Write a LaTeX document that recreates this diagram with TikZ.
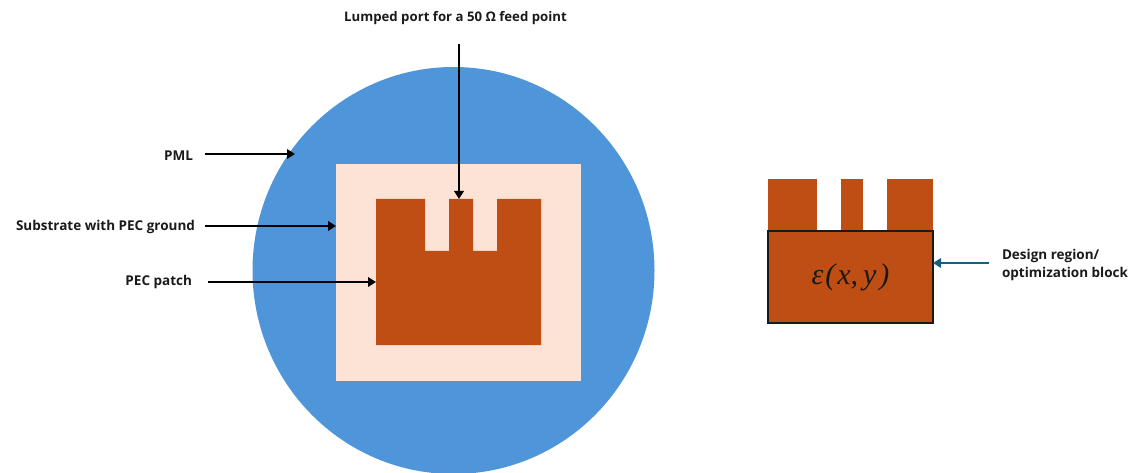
\documentclass[tikz,border=0pt]{standalone}
\usepackage{fontspec}
\setmainfont{Open Sans}
\newfontfamily\mathlike{Liberation Serif}
\usetikzlibrary{arrows.meta}
\definecolor{pmlblue}{HTML}{4F95DA}
\definecolor{subpeach}{HTML}{FCE3D6}
\definecolor{patchorange}{HTML}{BF4E14}
\definecolor{tealarrow}{HTML}{156082}
\definecolor{labelink}{HTML}{1A1A1A}
\tikzset{
  x=1pt,y=-1pt,
  shapebox/.style={rectangle,inner sep=0pt,outer sep=0pt,draw=none},
  lab/.style={inner sep=0pt,outer sep=0pt,text=labelink,font=\fontsize{13.5}{18}\selectfont\bfseries},
  pointer/.style={line width=2.3pt,-{Triangle[length=8pt,width=9.5pt]}},
}
\begin{document}
\begin{tikzpicture}
\useasboundingbox (0,0) rectangle (1133,473);
\begin{scope}
\clip (0,0) rectangle (1133,473);
\fill[pmlblue] (453.5,270.5) ellipse [x radius=201,y radius=203.5];
\end{scope}
\node[shapebox,fill=subpeach,minimum width=245pt,minimum height=217pt] (substrate) at (458.5,272.5) {};
\fill[patchorange] (376,199) -- (425,199) -- (425,251) -- (449,251) -- (449,199) -- (473,199) -- (473,251) -- (497,251) -- (497,199) -- (541,199) -- (541,345) -- (376,345) -- cycle;
\coordinate (patchleft) at (376,282);
\coordinate (patchtop) at (460.5,199);
\coordinate (pmledge) at (295,154);
% right-hand block
\fill[patchorange] (768,179) rectangle (817,231);
\fill[patchorange] (841,179) rectangle (863,231);
\fill[patchorange] (887,179) rectangle (933,231);
\node[shapebox,draw=black!90,line width=2pt,fill=patchorange,minimum width=165pt,minimum height=92pt,text=black!90,font=\fontsize{30}{34}\selectfont\mathlike\itshape] (block) at (850.5,277) {\raisebox{-2.5pt}{ε\kern2pt(\kern2pt x,\kern5pt y\kern3pt)}};
% labels
\node[lab,font=\fontsize{13.2}{18}\selectfont\bfseries] (portlab) at (455.5,18) {Lumped port for a 50 Ω feed point};
\node[lab,anchor=east] (pmllab) at (193,155.5) {PML};
\node[lab,anchor=east] (sublab) at (195,226.5) {Substrate with PEC ground};
\node[lab,anchor=east] (patchlab) at (192,281.5) {PEC patch};
\node[lab,anchor=west,align=left] (designlab) at (1002,264.5) {Design region/\\optimization block};
% arrow tails
\coordinate (porttail) at (459,44);
\coordinate (pmltail) at (205,154);
\coordinate (subtail) at (205,226);
\coordinate (patchtail) at (208,282);
\coordinate (designtail) at (989,263);
\draw[pointer] (porttail) -- (porttail |- patchtop);
\draw[pointer] (pmltail) -- (pmledge);
\draw[pointer] (subtail) -- (subtail -| substrate.west);
\draw[pointer] (patchtail) -- (patchleft);
\draw[pointer,tealarrow,line width=1.7pt] (designtail) -- (designtail -| block.east);
\end{tikzpicture}
\end{document}
